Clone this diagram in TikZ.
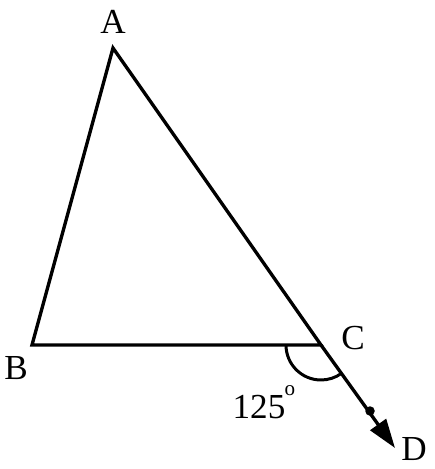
\documentclass[tikz,border=0pt]{standalone}
\usepackage{fontspec}
\setmainfont{Liberation Serif}
\usetikzlibrary{arrows.meta,angles}
\begin{document}
\begin{tikzpicture}[x=0.02cm, y=-0.02cm, line width=1.9pt,
  every node/.style={font=\fontsize{20}{22}\selectfont, inner sep=0pt}]
\useasboundingbox (0,0) rectangle (435,469);
\coordinate (A) at (113,48);
\coordinate (B) at (32,345);
\coordinate (C) at (321,345);
\coordinate (D) at (395,448);
\coordinate (E) at (370,411);
\draw[line join=miter] (B) -- (A) -- (C) -- cycle;
\draw[-{Triangle[length=0.58cm,width=0.38cm]}] (C) -- (D);
\fill (E) circle[radius=0.095cm];
\pic[draw, line width=1.7pt, angle radius=0.7cm] {angle=B--C--D};
\node (lA) at (113,22) {A};
\node (lB) at (16,368) {B};
\node (lC) at (353,338) {C};
\node (lD) at (414,449) {D};
\node (lang) at (259,407) {125};
\node[font=\fontsize{12}{13}\selectfont] (deg) at (290,391) {o};
\end{tikzpicture}
\end{document}
